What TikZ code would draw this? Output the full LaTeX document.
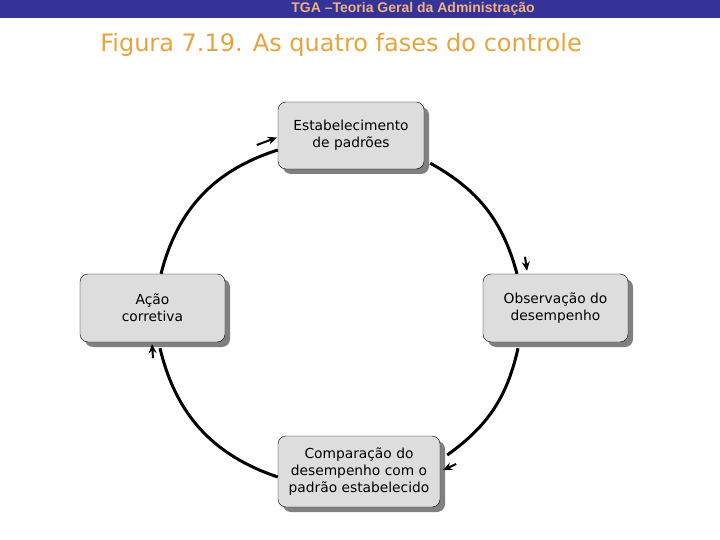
\documentclass[tikz,border=0pt]{standalone}
\usepackage{fontspec}
\setmainfont{DejaVu Sans}
\newfontfamily\headfont{Liberation Sans}
\usepackage{tikz}
\usetikzlibrary{arrows.meta,positioning,shadows}

\definecolor{faixa}{HTML}{333399}
\definecolor{laranja}{HTML}{E8A33A}
\definecolor{salmao}{HTML}{F2B27A}
\definecolor{caixa}{HTML}{DDDDDD}

\begin{document}
\begin{tikzpicture}[x=1bp,y=-1bp,>={Stealth[length=9bp,width=8bp,inset=3bp]},
    fase/.style={draw,rounded corners=8bp,fill=caixa,align=center,inner sep=0pt,
      font=\fontsize{13.8bp}{17bp}\selectfont,
      drop shadow={shadow xshift=5bp,shadow yshift=-5bp,fill=black!50,opacity=1}},
    ciclo/.style={line width=3bp},
    seta/.style={->,line width=2bp}]

  \useasboundingbox (0,0) rectangle (720,540);
  \fill[faixa] (0,0) rectangle (720,18);
  \node[text=salmao,font=\headfont\bfseries\fontsize{14bp}{16bp}\selectfont] (cab) at (413,8.5) {TGA –Teoria Geral da Administração};
  \node[text=laranja,font=\fontsize{24bp}{27bp}\selectfont] (titulo) at (341,45) {Figura 7.19. As quatro fases do controle};

  \node[fase,minimum width=146bp,minimum height=67bp] (estab) at (351,135.5) {Estabelecimento\\de padrões};
  \node[fase,minimum width=145bp,minimum height=68bp] (obs) at (555.5,308) {Observação do\\ desempenho};
  \node[fase,minimum width=162bp,minimum height=71bp] (comp) at (359,471.5) {Comparação do\\desempenho com o\\padrão estabelecido};
  \node[fase,minimum width=145bp,minimum height=68bp] (acao) at (152.5,308) {Ação\\corretiva};

  \path[ciclo]
        ([xshift=8.5bp]acao.north) edge [bend left=29] ([yshift=-14.5bp]estab.west)
        ([shift={(6bp,6bp)}]estab.south east) edge [bend left=23] ([xshift=-38.5bp]obs.north)
        ([shift={(-37.5bp,-6bp)}]obs.south) edge [bend left=21] ([shift={(7bp,16.5bp)}]comp.east)
        ([yshift=-5.5bp]comp.west) edge [bend left=29] ([shift={(7.5bp,-6bp)}]acao.south);

  \coordinate[below left=9.5bp and 21bp of estab.west] (s1);
  \coordinate[above left=17bp and 30.5bp of obs.north] (s2);
  \coordinate[above right=7.5bp and 16bp of comp.east] (s3);
  \coordinate[below right=16bp and 0.5bp of acao.south] (s4);

  \draw[seta] (s1) -- ([shift={(-1bp,-2bp)}]estab.west);
  \draw[seta] (s2) -- ([shift={(-28.5bp,3bp)}]obs.north);
  \draw[seta] (s3) -- ([shift={(3bp,1.5bp)}]comp.east);
  \draw[seta] (s4) -- ([shift={(-0.5bp,-2bp)}]acao.south);

\end{tikzpicture}
\end{document}
